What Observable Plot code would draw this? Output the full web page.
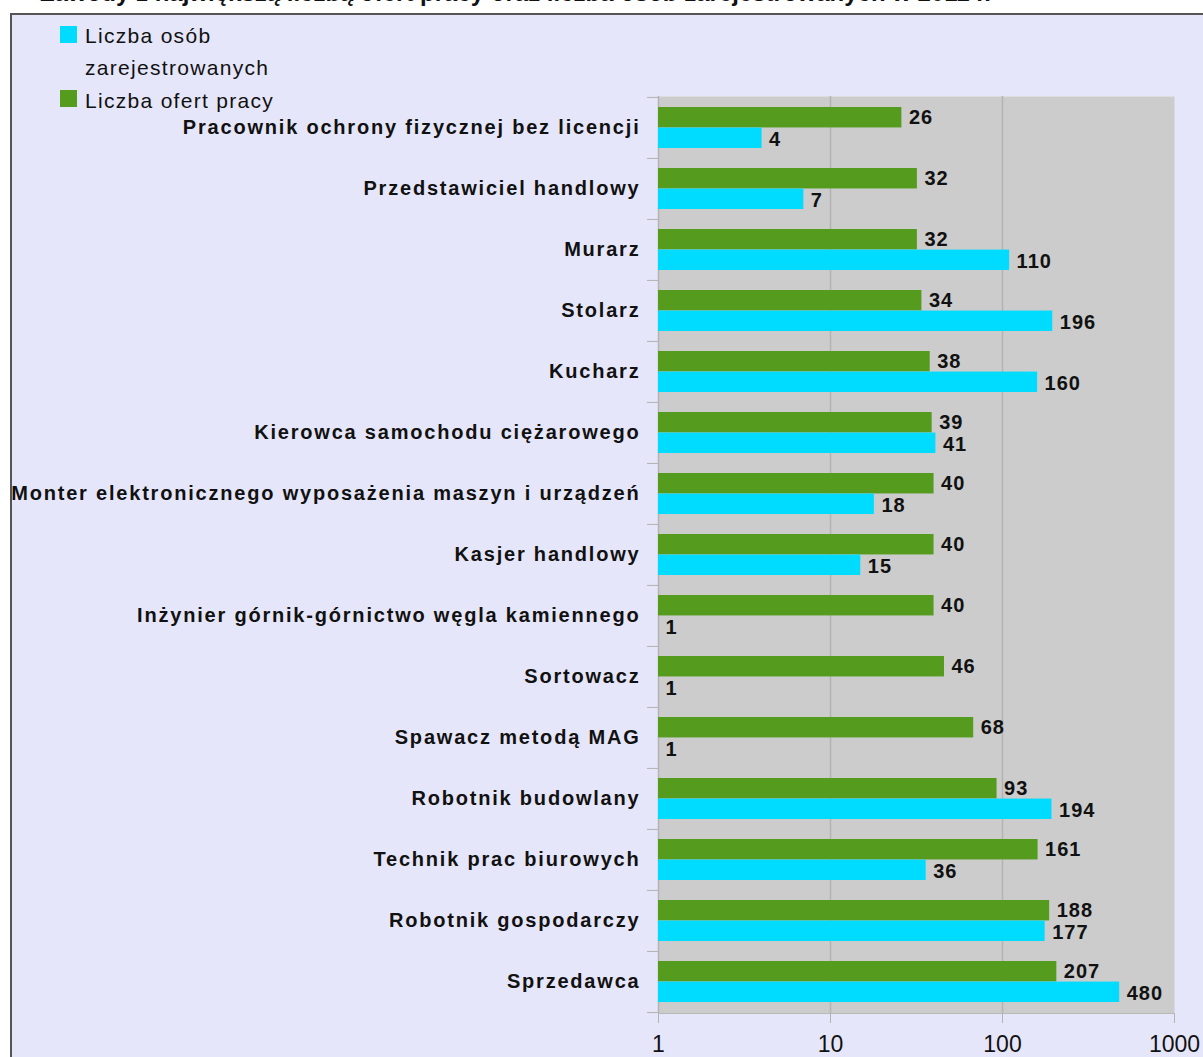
<!DOCTYPE html>
<html>
<head>
<meta charset="utf-8">
<script src="https://cdn.jsdelivr.net/npm/d3@7"></script>
<script src="https://cdn.jsdelivr.net/npm/@observablehq/plot@0.6"></script>
<style>
  html, body { margin: 0; padding: 0; background: #ffffff; width: 1203px; height: 1057px; overflow: hidden; font-family: "Liberation Sans", Arial, sans-serif; }
  #title { position: absolute; left: 40px; top: -21px; font-size: 24px; font-weight: bold; color: #111; white-space: nowrap; }
  #box { position: absolute; left: 10px; top: 13px; width: 1220px; height: 1100px; background: #e6e6fa; border-left: 2px solid #555; border-top: 2px solid #555; }
  #chart { position: absolute; left: 0; top: 0; }
  .leg { position: absolute; font-size: 21px; color: #111; line-height: 32px; letter-spacing: 1.3px; }
  .sw { position: absolute; width: 17px; height: 17px; }
  .cat text { letter-spacing: 1.8px; }
  .val text { letter-spacing: 1px; }
</style>
</head>
<body>
<div id="title">Zawody z największą liczbą ofert pracy oraz liczba osób zarejestrowanych w 2011 r.</div>
<div id="box"></div>
<div id="chart"></div>
<div class="sw" style="left:60px;top:26px;background:#00dcff"></div>
<div class="leg" style="left:85px;top:20px">Liczba osób<br>zarejestrowanych</div>
<div class="sw" style="left:60px;top:90px;background:#559c1e"></div>
<div class="leg" style="left:85px;top:85px">Liczba ofert pracy</div>
<script>
const categories = [
  "Pracownik ochrony fizycznej bez licencji",
  "Przedstawiciel handlowy",
  "Murarz",
  "Stolarz",
  "Kucharz",
  "Kierowca samochodu ciężarowego",
  "Monter elektronicznego wyposażenia maszyn i urządzeń",
  "Kasjer handlowy",
  "Inżynier górnik-górnictwo węgla kamiennego",
  "Sortowacz",
  "Spawacz metodą MAG",
  "Robotnik budowlany",
  "Technik prac biurowych",
  "Robotnik gospodarczy",
  "Sprzedawca"
];
const ofertyPracy = [26, 32, 32, 34, 38, 39, 40, 40, 40, 46, 68, 93, 161, 188, 207];
const osobyZarejestrowane = [4, 7, 110, 196, 160, 41, 18, 15, 1, 1, 1, 194, 36, 177, 480];
const xTicks = [1, 10, 100, 1000];
const gridValues = [1, 10, 100];

const oferty = categories.map((c, i) => ({cat: c, value: ofertyPracy[i]}));
const osoby = categories.map((c, i) => ({cat: c, value: osobyZarejestrowane[i]}));

const W = 1203, H = 1057;
const mTop = 96, mBottom = 44;
const band = (H - mTop - mBottom) / categories.length;
const gap = 10;
const barH = (band - 2 * gap) / 2;

const GREEN = "#559c1e", CYAN = "#00dcff";

const chart = Plot.plot({
  width: W,
  height: H,
  marginLeft: 658,
  marginRight: 29,
  marginTop: mTop,
  marginBottom: mBottom,
  style: {background: "transparent", fontFamily: "'Liberation Sans', Arial, sans-serif", overflow: "visible"},
  x: {type: "log", domain: [1, 1000]},
  y: {domain: categories, padding: 0},
  marks: [
    Plot.frame({fill: "#cccccc", stroke: null}),
    Plot.frame({anchor: "top", stroke: "#dddddd"}),
    Plot.ruleX(gridValues, {stroke: "#b3b3b3", strokeWidth: 1.5}),
    Plot.frame({anchor: "bottom", stroke: "#b8b8b8"}),
    Plot.barX(oferty, {y: "cat", x1: 1, x2: "value", fill: GREEN, insetTop: gap, insetBottom: gap + barH}),
    Plot.barX(osoby, {y: "cat", x1: 1, x2: "value", fill: CYAN, insetTop: gap + barH, insetBottom: gap}),
    Plot.text(oferty, {y: "cat", x: "value", text: d => String(d.value), textAnchor: "start", dx: 7, dy: -barH / 2, fontSize: 20, fontWeight: "bold", fill: "#111", className: "val"}),
    Plot.text(osoby, {y: "cat", x: "value", text: d => String(d.value), textAnchor: "start", dx: 7, dy: barH / 2 + 1, fontSize: 20, fontWeight: "bold", fill: "#111", className: "val"}),
    Plot.axisX({ticks: xTicks, tickFormat: d => String(d), tickSize: 10, tickPadding: 12, fontSize: 23, stroke: "#b3b3b3", fill: "#111", label: null}),
    Plot.axisY({tickSize: 0, tickPadding: 18, fontSize: 20, fontWeight: "bold", fill: "#111", label: null, className: "cat"}),
    Plot.axisY({tickSize: 11, tickFormat: () => "", dy: -band / 2, stroke: "#b3b3b3", label: null}),
    Plot.axisY({ticks: [categories[categories.length - 1]], tickSize: 11, tickFormat: () => "", dy: band / 2, stroke: "#b3b3b3", label: null})
  ]
});
document.getElementById("chart").appendChild(chart);
</script>
</body>
</html>
